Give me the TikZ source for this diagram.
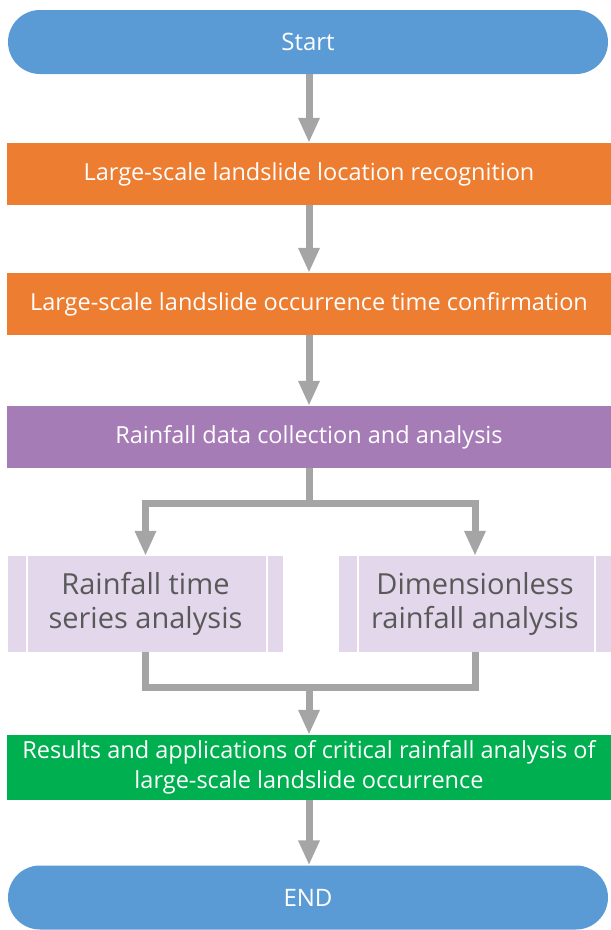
\documentclass[tikz,border=0pt]{standalone}
\usepackage{fontspec}
\setmainfont{Open Sans}
\usetikzlibrary{arrows.meta}

\definecolor{capblue}{HTML}{5B9BD5}
\definecolor{steporange}{HTML}{ED7D31}
\definecolor{steppurple}{HTML}{A57CB6}
\definecolor{stepgreen}{HTML}{00B050}
\definecolor{sublilac}{HTML}{E3D7EB}
\definecolor{linkgray}{HTML}{A5A5A5}
\definecolor{subtext}{HTML}{595959}

\tikzset{
  x=1pt, y=1pt,
  capsule/.style={rectangle, rounded corners=32pt, fill=capblue, text=white,
    minimum width=600pt, minimum height=64pt, inner sep=0pt,
    font=\fontsize{24}{28}\selectfont},
  bar/.style={rectangle, fill=#1, text=white,
    minimum width=604pt, minimum height=62pt, inner sep=0pt,
    font=\fontsize{23.5}{28}\selectfont, align=center},
  subbox/.style={rectangle, fill=sublilac, text=subtext,
    minimum height=96pt, inner sep=0pt, align=center,
    font=\fontsize{29}{34}\selectfont},
  divider/.style={white, line width=1.5pt},
  link/.style={draw=linkgray, line width=7pt},
  arr/.style={link, -{Triangle[width=20pt,length=25pt]}},
}

\begin{document}
\begin{tikzpicture}
\useasboundingbox (0,0) rectangle (611,-930);

% main column
\node[capsule] (start) at (308,-42) {Start};
\node[bar=steporange] (loc) at (309,-174) {Large-scale landslide location recognition};
\node[bar=steporange] (time) at (309,-304) {Large-scale landslide occurrence time confirmation};
\node[bar=steppurple] (rain) at (309,-437) {Rainfall data collection and analysis};

% two parallel analyses
\node[subbox, minimum width=275pt] (series) at (145.5,-604) {Rainfall time\\series analysis};
\node[subbox, minimum width=272pt] (dimless) at (475,-604) {Dimensionless\\rainfall analysis};
\foreach \b in {series, dimless} {
  \draw[divider] ([xshift=19pt]\b.north west) -- ([xshift=19pt]\b.south west);
  \draw[divider] ([xshift=-16pt]\b.north east) -- ([xshift=-16pt]\b.south east);
}

\node[bar=stepgreen, minimum height=65pt, font=\fontsize{23.5}{30}\selectfont] (result) at (309,-767.5)
  {Results and applications of critical rainfall analysis of\\large-scale landslide occurrence};
\node[capsule] (finish) at (308,-897.5) {END};

% connectors
\coordinate (split) at (309,-503);
\coordinate (merge) at (309,-687);

\draw[arr] (start.south -| loc.north) -- (loc.north);
\draw[arr] (loc) -- (time);
\draw[arr] (time) -- (rain);
\draw[link] (rain.south) -- (split);
\draw[arr] (split) -| (series.north);
\draw[arr] (split) -| (dimless.north);
\draw[link] (series.south) |- (merge);
\draw[link] (dimless.south) |- (merge);
\draw[arr] (merge) -- (result.north);
\draw[arr] (result.south) -- (finish.north -| result.south);
\end{tikzpicture}
\end{document}
